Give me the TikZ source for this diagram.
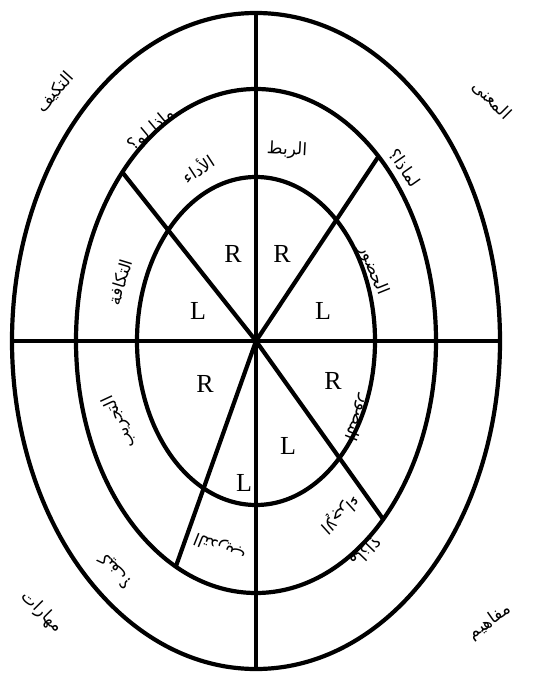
\documentclass[tikz,border=0pt]{standalone}
\usepackage{fontspec}
\TeXXeTstate=1
\newfontfamily\arabicfont[Script=Arabic]{DejaVu Sans}
\newfontfamily\rlfont{Liberation Serif}
\begin{document}
\begin{tikzpicture}[x=1pt,y=-1pt,
  ring/.style={line width=4.2pt},
  spoke/.style={line width=4.2pt},
  ar/.style={font=\arabicfont\fontsize{17}{17}\selectfont, inner sep=0pt},
  rl/.style={font=\rlfont\fontsize{26}{26}\selectfont, inner sep=0pt}]
\useasboundingbox (0,0) rectangle (533,677);
\coordinate (c) at (256,341);
\coordinate (top) at (256,11);
\coordinate (bot) at (256,667);
\coordinate (lft) at (12,341);
\coordinate (rgt) at (500,341);
\coordinate (ul) at (122.3,172.2);
\coordinate (ur) at (378.5,156.4);
\coordinate (ll) at (175.8,566.6);
\coordinate (lr) at (383.2,519.3);
% rings
\draw[ring] (c) ellipse [x radius=244pt, y radius=328pt];
\draw[ring] (c) ellipse [x radius=180pt, y radius=252pt];
\draw[ring] (c) ellipse [x radius=119pt, y radius=164pt];
% spokes
\draw[spoke] (top) -- (bot);
\draw[spoke] (lft) -- (rgt);
\draw[spoke] (ul) -- (c) -- (lr);
\draw[spoke] (ur) -- (c) -- (ll);
% quadrant labels
\node[ar, rotate=48] (qa) at (55,92) {\beginR التكيف\endR};
\node[ar, rotate=-45] (qb) at (492,100) {\beginR المعنى\endR};
\node[ar, rotate=35] (qc) at (490,622) {\beginR مفاهيم\endR};
\node[ar, rotate=-45] (qd) at (42,612) {\beginR مهارات\endR};
% questions (outer ring)
\node[ar, rotate=40] (oa) at (152,130) {\beginR ماذا لو؟\endR};
\node[ar, rotate=-55] (ob) at (405,168) {\beginR لماذا؟\endR};
\node[ar, rotate=-134] (oc) at (366,552) {\beginR ماذا؟\endR};
\node[ar, rotate=132] (od) at (116,571) {\beginR كيف؟\endR};
% steps (middle ring)
\node[ar, rotate=33] (m1) at (198,168) {\beginR الأداء\endR};
\node[ar, rotate=-3] (m2) at (287,150) {\beginR الربط\endR};
\node[ar, rotate=-68] (m3) at (373,270) {\beginR الحضور\endR};
\node[ar, rotate=73] (m4) at (120,282) {\beginR التكافة\endR};
\node[ar, rotate=-112] (m5) at (358,418) {\beginR التصور\endR};
\node[ar, rotate=-138] (m6) at (340,514) {\beginR الإجراء\endR};
\node[ar, rotate=158] (m7) at (220,547) {\beginR التدريب\endR};
\node[ar, rotate=115] (m8) at (120,422) {\beginR التجريب\endR};
% R / L
\node[rl] (r1) at (233,254) {R};
\node[rl] (r2) at (282,254) {R};
\node[rl] (l1) at (198,311) {L};
\node[rl] (l2) at (323,311) {L};
\node[rl] (r3) at (205,384) {R};
\node[rl] (r4) at (333,381) {R};
\node[rl] (l3) at (288,446) {L};
\node[rl] (l4) at (244,483) {L};
\end{tikzpicture}
\end{document}
